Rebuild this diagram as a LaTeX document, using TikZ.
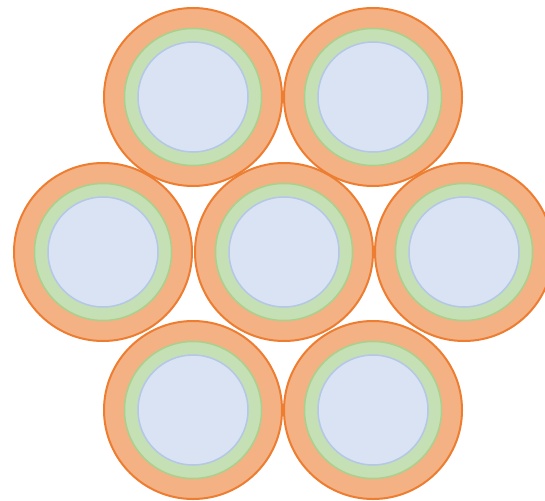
\documentclass[tikz,border=0pt]{standalone}
\definecolor{orfill}{HTML}{F4B183}
\definecolor{ordraw}{HTML}{ED7D31}
\definecolor{grfill}{HTML}{C5E0B4}
\definecolor{grdraw}{HTML}{A9D18E}
\definecolor{blfill}{HTML}{DAE3F3}
\definecolor{bldraw}{HTML}{B4C7E7}
\tikzset{
  outerring/.style={fill=orfill,draw=ordraw,line width=2pt},
  midring/.style={fill=grfill,draw=grdraw,line width=1.5pt},
  innercore/.style={fill=blfill,draw=bldraw,line width=1.5pt},
  strand/.pic={
    \path[outerring] (0,0) circle (89);
    \path[midring] (0,0) circle (68.5);
    \path[innercore] (0,0) circle (55);
  }
}
\begin{document}
\begin{tikzpicture}[x=1pt,y=-1pt]
\useasboundingbox (0,0) rectangle (545,500);
\clip (0,0) rectangle (545,500);
\pic at (193,97) {strand};
\pic at (373,97) {strand};
\pic at (103,252) {strand};
\pic at (284,252) {strand};
\pic at (464,252) {strand};
\pic at (193,410) {strand};
\pic at (373,410) {strand};
\end{tikzpicture}
\end{document}
